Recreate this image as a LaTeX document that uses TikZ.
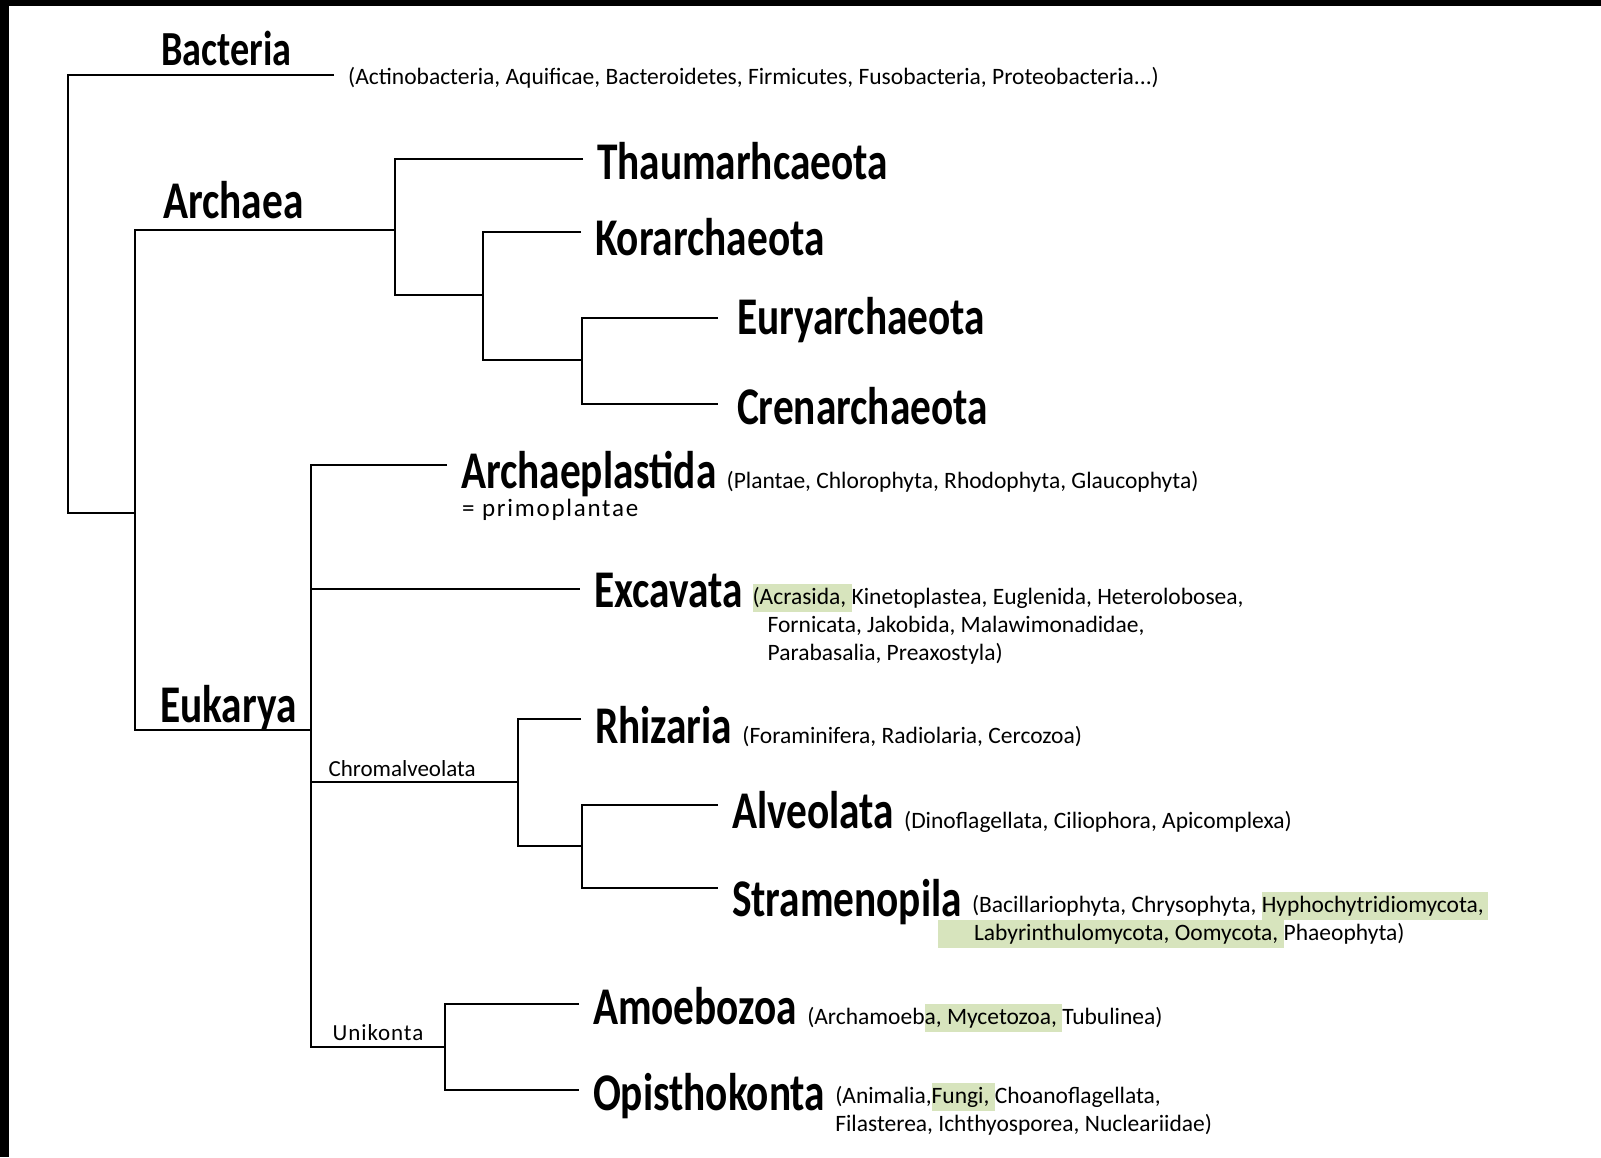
\documentclass[tikz,border=0pt]{standalone}
\usepackage{fontspec}
\setmainfont{Carlito}
\newfontfamily\cladefont[FakeStretch=0.78]{Carlito}
\definecolor{hlgreen}{RGB}{215,228,189}
\newcommand{\hl}[1]{{\setlength{\fboxsep}{0pt}\colorbox{hlgreen}{\vrule height 0.85em depth 0.32em width 0pt #1}}}

\begin{document}
\begin{tikzpicture}[x=1pt,y=-1pt,
  branch/.style={draw,line width=2.6pt},
  clade/.style={anchor=west,inner xsep=14pt,inner ysep=0pt,outer sep=0pt,
    text height=40pt,text depth=0pt,font=\cladefont\bfseries\fontsize{53}{60}\selectfont},
  domainlab/.style={anchor=base west,inner sep=0pt,font=\cladefont\bfseries\fontsize{53}{60}\selectfont},
  members/.style={anchor=base west,inner sep=0pt,xshift=-4pt,align=left,font=\fontsize{23.5}{28}\selectfont},
  grade/.style={inner sep=0pt,font=\fontsize{23}{28}\selectfont}
  ]
\useasboundingbox (0,0) rectangle (1601,1157);
% scan border
\fill (0,0) rectangle (1601,6);
\fill (0,0) rectangle (9,1157);

% domains
\node[domainlab,font=\cladefont\bfseries\fontsize{49}{56}\selectfont] (bac) at (161,65) {Bacteria};
\node[domainlab] (arc) at (163,218) {Archaea};
\node[domainlab] (eukl) at (160,722) {Eukarya};

% branch points
\coordinate (root) at (68,513);
\coordinate (n1) at (135,513);
\coordinate (arch) at (395,230);
\coordinate (n3) at (483,295);
\coordinate (n4) at (582,360);
\coordinate (euk) at (311,730);
\coordinate (chrom) at (518,782);
\coordinate (n5) at (582,846);
\coordinate (uni) at (445,1047);

% tips
\node[clade] (thaum) at (583,159) {Thaumarhcaeota};
\node[clade,text height=46pt] (kor) at (581,232) {Korarchaeota};
\node[clade,inner xsep=19pt,text height=32pt] (eury) at (718,318) {Euryarchaeota};
\node[clade,inner xsep=19pt] (cren) at (718,404) {Crenarchaeota};
\node[clade,text height=46pt] (aplast) at (447,465) {Archaeplastida};
\node[clade,text height=36pt] (exc) at (580,589) {Excavata};
\node[clade,text height=48pt] (rhiz) at (581,719) {Rhizaria};
\node[clade,text height=46pt] (alv) at (718,805) {Alveolata};
\node[clade,text height=56pt] (stram) at (718,888) {Stramenopila};
\node[clade] (amoeb) at (579,1004) {Amoebozoa};
\node[clade] (opis) at (579,1090) {Opisthokonta};

% member lists
\node[members,anchor=west,xshift=0pt,inner xsep=14pt,text height=18pt,text depth=0pt] (bacinfo) at (338,75)
  {(Actinobacteria, Aquificae, Bacteroidetes, Firmicutes, Fusobacteria, Proteobacteria...)};
\node[members] (aplastinfo) at (aplast.base east) {(Plantae, Chlorophyta, Rhodophyta, Glaucophyta)};
\node[grade,anchor=base west,font=\fontsize{25}{30}\selectfont\addfontfeature{LetterSpace=7}] (primo) at (462,516) {= primoplantae};
\node[members,yshift=-53pt] (excinfo) at (exc.base east)
  {\hl{(Acrasida, }Kinetoplastea, Euglenida, Heterolobosea,\\
   \hspace*{15pt}Fornicata, Jakobida, Malawimonadidae,\\
   \hspace*{15pt}Parabasalia, Preaxostyla)};
\node[members] (rhizinfo) at (rhiz.base east) {(Foraminifera, Radiolaria, Cercozoa)};
\node[members] (alvinfo) at (alv.base east) {(Dinoflagellata, Ciliophora, Apicomplexa)};
\node[members,yshift=-24pt] (straminfo) at (stram.base east)
  {(Bacillariophyta, Chrysophyta, \hl{Hyphochytridiomycota,\,}\\
   \hspace*{-34pt}\hl{\hspace*{36pt}Labyrinthulomycota, Oomycota, }Phaeophyta)};
\node[members] (amoebinfo) at (amoeb.base east) {(Archamoeb\hl{a, Mycetozoa, }Tubulinea)};
\node[members,yshift=-21pt] (opisinfo) at (opis.base east)
  {(Animalia,\hl{Fungi, }Choanoflagellata,\\
   Filasterea, Ichthyosporea, Nucleariidae)};

% tree
\draw[branch] (bacinfo.west) -| (root) |- (n1);
\draw[branch] (arch) -| (n1) |- (euk);
\draw[branch] (thaum.west) -| (arch) |- (n3);
\draw[branch] (kor.west) -| (n3) |- (n4);
\draw[branch] (eury.west) -| (n4) |- (cren.west);
\draw[branch] (aplast.west) -| (euk)
  |- node[grade,above=5pt,pos=0.75,font=\fontsize{23}{28}\selectfont\addfontfeature{LetterSpace=4}] (unilab) {Unikonta} (uni);
\draw[branch] (euk |- exc.west) -- (exc.west);
\draw[branch] (euk |- chrom) -- node[grade,above=4pt,pos=0.44] (chromlab) {Chromalveolata} (chrom);
\draw[branch] (rhiz.west) -| (chrom) |- (n5);
\draw[branch] (alv.west) -| (n5) |- (stram.west);
\draw[branch] (amoeb.west) -| (uni) |- (opis.west);
\end{tikzpicture}
\end{document}
